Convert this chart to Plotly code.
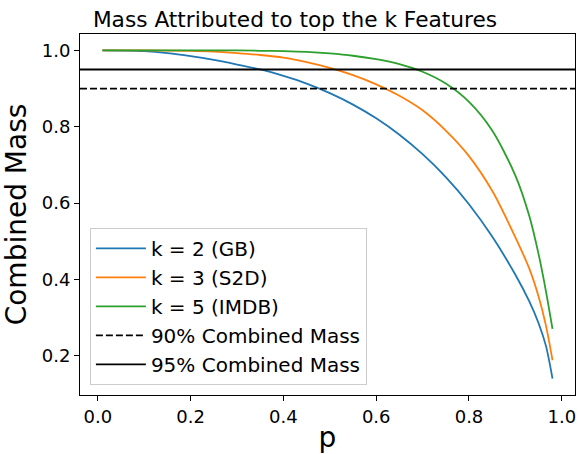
import plotly.graph_objects as go

# Data
p_gb = [0.01, 0.05, 0.10, 0.15, 0.20, 0.25, 0.30, 0.35, 0.40, 0.45, 0.50, 0.55, 0.60, 0.65, 0.70, 0.75, 0.80, 0.85, 0.90, 0.93, 0.95, 0.966, 0.98]
mass_gb = [1.0, 0.9995, 0.998, 0.993, 0.985, 0.975, 0.963, 0.950, 0.933, 0.913, 0.888, 0.858, 0.822, 0.779, 0.728, 0.668, 0.597, 0.512, 0.412, 0.342, 0.285, 0.225, 0.14]

p_s2d = [0.01, 0.10, 0.20, 0.25, 0.30, 0.35, 0.40, 0.45, 0.50, 0.55, 0.60, 0.65, 0.70, 0.75, 0.80, 0.85, 0.90, 0.93, 0.95, 0.966, 0.98]
mass_s2d = [1.0, 1.0, 0.999, 0.997, 0.993, 0.988, 0.981, 0.969, 0.954, 0.935, 0.911, 0.881, 0.843, 0.790, 0.723, 0.632, 0.510, 0.428, 0.355, 0.278, 0.188]

p_imdb = [0.01, 0.30, 0.35, 0.40, 0.45, 0.50, 0.55, 0.60, 0.65, 0.70, 0.75, 0.80, 0.85, 0.90, 0.93, 0.95, 0.966, 0.98]
mass_imdb = [1.0, 1.0, 0.999, 0.998, 0.996, 0.992, 0.986, 0.977, 0.964, 0.944, 0.913, 0.865, 0.790, 0.672, 0.566, 0.466, 0.368, 0.27]

series_names = ["k = 2 (GB)", "k = 3 (S2D)", "k = 5 (IMDB)"]
series_colors = ["#1f77b4", "#ff7f0e", "#2ca02c"]

threshold_values = [0.90, 0.95]
threshold_names = ["90% Combined Mass", "95% Combined Mass"]
threshold_dash = ["7px,3px", "solid"]

x_ticks = [0.0, 0.2, 0.4, 0.6, 0.8, 1.0]
y_ticks = [0.2, 0.4, 0.6, 0.8, 1.0]

x_range = [-0.0385, 1.0285]
y_range = [0.0969, 1.043]

FONT = "DejaVu Sans"

fig = go.Figure()

for xs, ys, name, color in zip([p_gb, p_s2d, p_imdb], [mass_gb, mass_s2d, mass_imdb], series_names, series_colors):
    fig.add_trace(go.Scatter(x=xs, y=ys, mode="lines", name=name,
                             line=dict(color=color, width=1.8, shape="spline", smoothing=0.8)))

for val, name, dash in zip(threshold_values, threshold_names, threshold_dash):
    fig.add_trace(go.Scatter(x=x_range, y=[val, val], mode="lines", name=name,
                             line=dict(color="black", width=1.8, dash=dash)))

fig.update_layout(
    width=581, height=454,
    margin=dict(l=80, r=6, t=34, b=59),
    paper_bgcolor="white", plot_bgcolor="white",
    font=dict(family=FONT, color="black", size=18),
    title=dict(text="Mass Attributed to top the k Features", x=295 / 581, xref="container",
               y=1 - 19 / 454, yref="container", yanchor="middle", xanchor="center",
               font=dict(size=21.7, family=FONT, color="black")),
    showlegend=True,
    legend=dict(x=0.02, y=0.028, xanchor="left", yanchor="bottom",
                bgcolor="rgba(255,255,255,0.8)", bordercolor="#cccccc", borderwidth=1,
                itemwidth=50,
                font=dict(size=20, family=FONT, color="black")),
)

fig.update_xaxes(range=x_range, tickvals=x_ticks, ticktext=[f"{v:.1f}" for v in x_ticks],
                 showgrid=False, zeroline=False, showline=True, linecolor="black", linewidth=1,
                 mirror=True, ticks="outside", ticklen=5, tickwidth=1, tickcolor="black",
                 tickfont=dict(size=18, family=FONT),
                 title=dict(text="p", font=dict(size=28, family=FONT), standoff=4), automargin=False)
fig.update_yaxes(range=y_range, tickvals=y_ticks, ticktext=[f"{v:.1f}" for v in y_ticks],
                 showgrid=False, zeroline=False, showline=True, linecolor="black", linewidth=1,
                 mirror=True, ticks="outside", ticklen=5, tickwidth=1, tickcolor="black",
                 tickfont=dict(size=18, family=FONT),
                 title=dict(text="Combined Mass", font=dict(size=28, family=FONT), standoff=8), automargin=False)

fig.write_html("out.html", config={"displayModeBar": False},
               post_script="document.body.style.margin='0';")
